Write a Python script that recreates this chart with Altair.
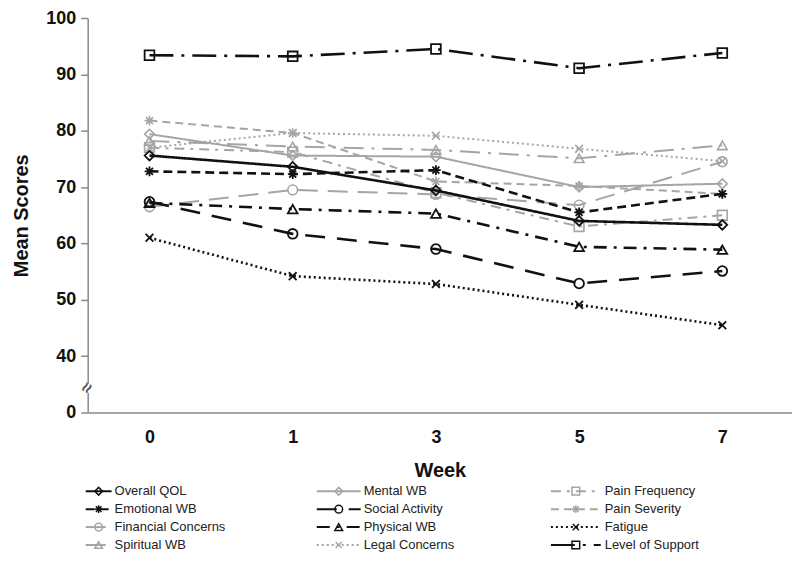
import altair as alt
import pandas as pd

weeks = ["0", "1", "3", "5", "7"]

series_names = [
    "Overall QOL", "Mental WB", "Pain Frequency",
    "Emotional WB", "Social Activity", "Pain Severity",
    "Financial Concerns", "Physical WB", "Fatigue",
    "Spiritual WB", "Legal Concerns", "Level of Support",
]

overall_qol = [75.6, 73.6, 69.4, 64.0, 63.3]
mental_wb = [79.4, 75.6, 75.4, 70.0, 70.6]
pain_frequency = [77.0, 76.2, 69.0, 63.0, 65.0]
emotional_wb = [72.8, 72.3, 73.0, 65.5, 68.8]
social_activity = [67.4, 61.7, 59.0, 52.9, 55.1]
pain_severity = [81.8, 79.6, 71.0, 70.2, 68.8]
financial_concerns = [66.5, 69.5, 68.7, 66.8, 74.5]
physical_wb = [67.2, 66.1, 65.3, 59.4, 58.9]
fatigue = [61.0, 54.2, 52.8, 49.1, 45.5]
spiritual_wb = [78.2, 77.2, 76.6, 75.1, 77.4]
legal_concerns = [77.0, 79.6, 79.1, 76.8, 74.6]
level_of_support = [93.4, 93.2, 94.5, 91.1, 93.8]

series_values = [
    overall_qol, mental_wb, pain_frequency,
    emotional_wb, social_activity, pain_severity,
    financial_concerns, physical_wb, fatigue,
    spiritual_wb, legal_concerns, level_of_support,
]

BLACK = "#111111"
GRAY = "#a5a5a5"
ASTER = "M-1,0L1,0M0,-1L0,1M-0.72,-0.72L0.72,0.72M-0.72,0.72L0.72,-0.72"
XMARK = "M-0.8,-0.8L0.8,0.8M-0.8,0.8L0.8,-0.8"

style = {
    "Overall QOL": (BLACK, [1, 0], "diamond"),
    "Mental WB": (GRAY, [1, 0], "diamond"),
    "Pain Frequency": (GRAY, [10, 6, 3, 6], "square"),
    "Emotional WB": (BLACK, [9, 5], ASTER),
    "Social Activity": (BLACK, [20, 12], "circle"),
    "Pain Severity": (GRAY, [8, 5], ASTER),
    "Financial Concerns": (GRAY, [20, 10], "circle"),
    "Physical WB": (BLACK, [13, 7, 3, 7], "triangle-up"),
    "Fatigue": (BLACK, [2, 3], XMARK),
    "Spiritual WB": (GRAY, [20, 8, 3, 8], "triangle-up"),
    "Legal Concerns": (GRAY, [2, 3], XMARK),
    "Level of Support": (BLACK, [24, 8, 3, 8], "square"),
}

colors = [style[n][0] for n in series_names]
dashes = [style[n][1] for n in series_names]
shapes = [style[n][2] for n in series_names]
black_names = [n for n in series_names if style[n][0] == BLACK]
gray_names = [n for n in series_names if style[n][0] == GRAY]

rows = []
for name, vals in zip(series_names, series_values):
    for w, v in zip(weeks, vals):
        rows.append({"series": name, "week": w, "value": v})
df = pd.DataFrame(rows)

color_enc = alt.Color("series:N", scale=alt.Scale(domain=series_names, range=colors), legend=None)
dash_enc = alt.StrokeDash("series:N", scale=alt.Scale(domain=series_names, range=dashes), legend=None)
shape_enc = alt.Shape("series:N", scale=alt.Scale(domain=series_names, range=shapes), legend=None)

x_enc = alt.X(
    "week:O", sort=weeks,
    scale=alt.Scale(type="point", padding=0.459, align=0.47),
    axis=alt.Axis(title="Week", labelAngle=0, ticks=False, labelPadding=16,
                  titlePadding=14, domainColor="#8a8a8a", domainWidth=1.5),
)
y_enc = alt.Y(
    "value:Q",
    scale=alt.Scale(domain=[30, 100], nice=False, zero=False),
    axis=alt.Axis(title="Mean Scores", values=[30, 40, 50, 60, 70, 80, 90, 100],
                  labelExpr="datum.value == 30 ? '0' : datum.label",
                  tickSize=7, tickColor="#8a8a8a", tickWidth=1.5, labelPadding=5,
                  titlePadding=14, domainColor="#8a8a8a", domainWidth=1.5, grid=False),
)

base = alt.Chart(df)

def lines_for(names, width):
    return base.transform_filter(
        alt.FieldOneOfPredicate(field="series", oneOf=names)
    ).mark_line(strokeWidth=width).encode(
        x=x_enc, y=y_enc, color=color_enc, strokeDash=dash_enc, detail="series:N"
    )

def points_for(names, width):
    return base.transform_filter(
        alt.FieldOneOfPredicate(field="series", oneOf=names)
    ).mark_point(filled=False, size=95, strokeWidth=width, opacity=1).encode(
        x=x_enc, y=y_enc, color=color_enc, shape=shape_enc
    )

brk_bg = alt.Chart(pd.DataFrame({"v": [35]})).mark_rule(color="white", strokeWidth=6).encode(
    x=alt.value(-1), x2=alt.value(1), y=alt.Y("v:Q"), y2=alt.Y2(datum=33.5)
)
brk = alt.Chart(pd.DataFrame({"v": [34.3]})).mark_text(
    text="≈", fontSize=18, angle=300, color="#555", fontWeight="bold"
).encode(x=alt.value(0), y=alt.Y("v:Q"))

main = alt.layer(
    lines_for(gray_names, 2),
    points_for(gray_names, 1.6),
    lines_for(black_names, 2.6),
    points_for(black_names, 1.8),
    brk_bg,
    brk,
)

# legend layout (view coordinates), built from the same series list
col_line = [(-2, 24), (230, 274), (465, 515)]
col_text = [27, 277, 519]
leg_rows = []
for i, n in enumerate(series_names):
    c, r = i % 3, i // 3
    a, b = col_line[c]
    leg_rows.append({"series": n, "lx": a, "lx2": b, "lm": (a + b) / 2,
                     "lt": col_text[c], "ly": 475 + 18 * r})
leg = alt.Chart(pd.DataFrame(leg_rows))
lx = lambda f: alt.X(f, scale=None, axis=None)
ly = alt.Y("ly:Q", scale=None, axis=None)

leg_lines = leg.mark_rule(strokeWidth=2).encode(
    x=lx("lx:Q"), x2="lx2:Q", y=ly, color=color_enc, strokeDash=dash_enc
)
leg_pts = leg.mark_point(filled=False, size=60, strokeWidth=1.5, opacity=1).encode(
    x=lx("lm:Q"), y=ly, color=color_enc, shape=shape_enc
)
leg_txt = leg.mark_text(align="left", baseline="middle", fontSize=13,
                        font="Liberation Sans", color="#222").encode(
    x=lx("lt:Q"), y=ly, text="series:N"
)

chart = alt.layer(main, leg_lines, leg_pts, leg_txt).resolve_scale(
    x="independent", y="independent"
).properties(
    width=707, height=396,
    autosize=alt.AutoSizeParams(type="none"),
    padding={"left": 80, "top": 9, "right": 0, "bottom": 150},
).configure_view(stroke=None).configure_axis(
    labelFont="Liberation Sans", labelFontSize=18, labelFontWeight="bold", labelColor="#111",
    titleFont="Liberation Sans", titleFontSize=20, titleFontWeight="bold", titleColor="#111",
)

chart.save("out.html", embed_options={"renderer": "svg", "actions": False})
